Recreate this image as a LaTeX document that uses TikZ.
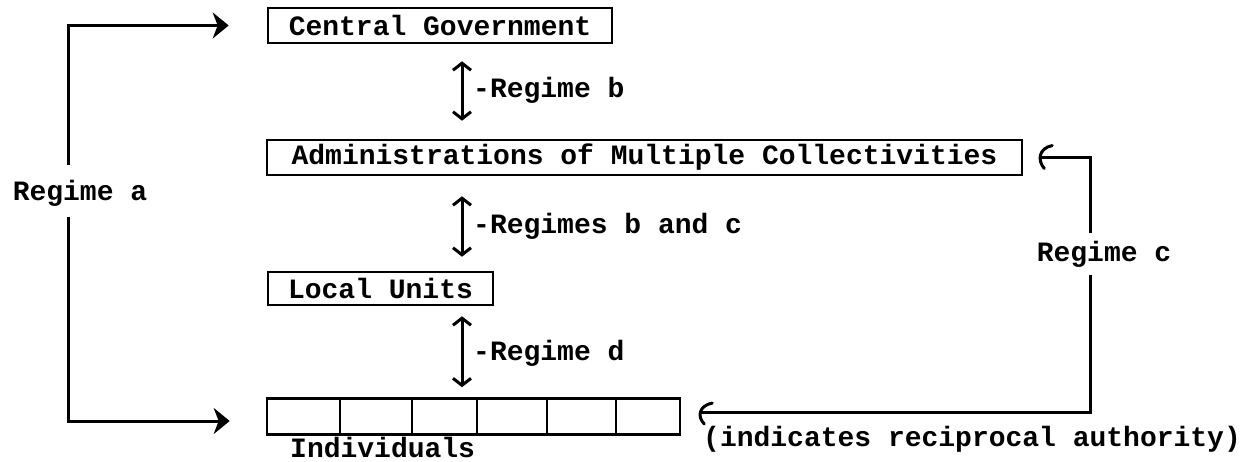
\documentclass[tikz,border=0pt]{standalone}
\usepackage{fontspec}
\newfontfamily\tw{Liberation Mono}
\usetikzlibrary{arrows.meta,calc}
\begin{document}
\begin{tikzpicture}[x=1pt,y=-1pt,
  every node/.style={font=\tw\bfseries\fontsize{28}{30}\selectfont, inner sep=0pt},
  lvl/.style={draw, line width=2.6pt, minimum height=34pt},
  ln/.style={line width=3pt},
  dbl/.style={ln, {Straight Barb[length=7pt,width=18pt]}-{Straight Barb[length=7pt,width=18pt]}},
  bigarr/.style={ln, -{Stealth[length=16pt,width=26pt,inset=5pt]}},
  lbl/.style={anchor=west}
]
\useasboundingbox (0,0) rectangle (1255,462);
% level boxes
\node[lvl, minimum width=344pt, minimum height=35pt] (cg) at (440,25.5) {Central Government};
\node[lvl, minimum width=755pt, minimum height=35pt] (adm) at (644.5,157.5) {Administrations of Multiple Collectivities};
\node[lvl, minimum width=225pt, minimum height=33pt] (lu) at (380.5,288.5) {Local Units};
\node[lvl, minimum width=413pt, minimum height=36pt] (ind) at (473.5,416.5) {};
\foreach \xx in {340,412,477,547,616}
  \draw[line width=2.4pt] (\xx,398.5) -- (\xx,434.5);
\node[anchor=base west] (indl) at (290,457.5) {Individuals};
\node[lbl] (rem) at (703,439) {(indicates reciprocal authority)};

% vertical double arrows
\coordinate (ax) at (462,0);
\draw[dbl, shorten <=17pt, shorten >=18pt] (cg.south -| ax) -- (adm.north -| ax);
\draw[dbl, shorten <=20pt, shorten >=14pt] (adm.south -| ax) -- (lu.north -| ax);
\draw[dbl, shorten <=10pt, shorten >=10pt] (lu.south -| ax) -- (ind.north -| ax);
\node[lbl] (rb) at (473,90) {-Regime b};
\node[lbl] (rbc) at (473,226) {-Regimes b and c};
\node[lbl] (rd) at (473,353) {-Regime d};

% Regime a
\node (ra) at (80,193) {Regime a};
\coordinate (ra1) at (68,165);
\coordinate (ra2) at (68,217);
\draw[bigarr, shorten >=38pt] (ra1) |- (cg.west);
\draw[bigarr, shorten >=36pt] (ra2) |- ([yshift=-4.5pt]ind.west);

% Regime c
\node (rc) at (1104,254) {Regime c};
\coordinate (rc1) at (1090,233);
\coordinate (rc2) at (1090,275);
\coordinate (h1) at ([xshift=18pt]adm.east);
\coordinate (h2) at ([xshift=20pt,yshift=4.5pt]ind.east);
\draw[ln] (rc1) |- (h1);
\draw[ln] (rc2) |- (h2);
\draw[ln, line cap=round] ($(h1)+(11,-12)$) .. controls ($(h1)+(-3,-9)$) and ($(h1)+(-4,3)$) .. ($(h1)+(3,11)$);
\draw[ln, line cap=round] ($(h2)+(11,-9)$) .. controls ($(h2)+(-3,-6)$) and ($(h2)+(-4,5)$) .. ($(h2)+(3,12)$);
\end{tikzpicture}
\end{document}
